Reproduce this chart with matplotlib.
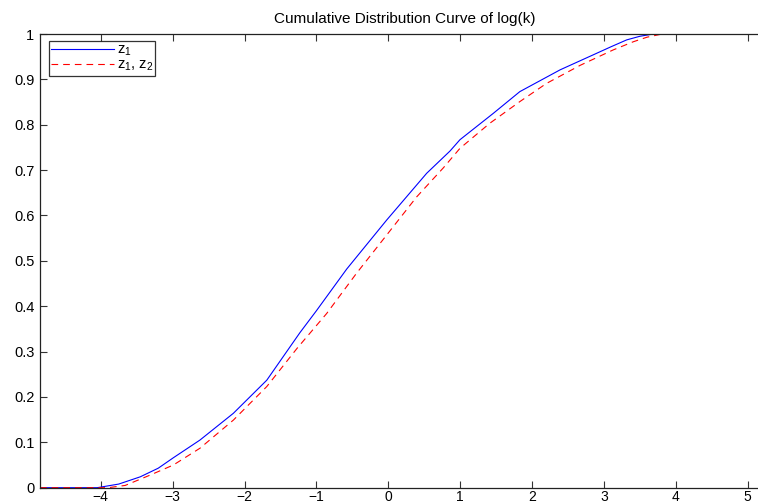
import matplotlib
matplotlib.use("Agg")
import matplotlib.pyplot as plt

plt.rcParams['font.family'] = ['Liberation Sans', 'DejaVu Sans']
plt.rcParams['mathtext.fontset'] = 'custom'
plt.rcParams['mathtext.rm'] = 'Liberation Sans'
plt.rcParams['mathtext.it'] = 'Liberation Sans'

title = "Cumulative Distribution Curve of log(k)"
labels = [r"z$_1$", r"z$_1$, z$_2$"]

# series 1 (z1)
x1 = [-4.845, -4.05, -3.75, -3.45, -3.2, -2.99, -2.62, -2.155, -1.69, -1.413, -1.228, -1.0,
      -0.578, -0.022, 0.534, 0.858, 0.997, 1.46, 1.83, 2.39, 2.85, 3.1, 3.316, 3.5, 3.65, 3.75, 5.31]
y1 = [0.0, 0.0, 0.008, 0.024, 0.043, 0.066, 0.105, 0.164, 0.237, 0.300, 0.342, 0.390,
      0.482, 0.59, 0.693, 0.742, 0.767, 0.825, 0.873, 0.921, 0.954, 0.972, 0.987, 0.995, 0.999, 1.0, 1.0]

# series 2 (z1, z2)
x2 = [-4.845, -3.9, -3.66, -3.31, -2.99, -2.62, -2.155, -1.69, -1.27, -0.857, -0.44, -0.022,
      0.395, 0.766, 0.997, 1.41, 1.83, 2.20, 2.67, 3.13, 3.41, 3.6, 3.78, 3.9, 5.31]
y2 = [0.0, 0.0, 0.005, 0.028, 0.05, 0.087, 0.149, 0.223, 0.307, 0.384, 0.473, 0.557,
      0.641, 0.705, 0.748, 0.803, 0.851, 0.891, 0.931, 0.965, 0.983, 0.993, 0.999, 1.0, 1.0]

xticks = [-4, -3, -2, -1, 0, 1, 2, 3, 4, 5]
yticks = [0, 0.1, 0.2, 0.3, 0.4, 0.5, 0.6, 0.7, 0.8, 0.9, 1]
yticklabels = ["0", "0.1", "0.2", "0.3", "0.4", "0.5", "0.6", "0.7", "0.8", "0.9", "1"]

fig = plt.figure(figsize=(7.58, 5.04), dpi=100)
ax = fig.add_axes([40/758, 16.3/504, 730/758, 453.7/504])
ax.plot(x1, y1, color='#0000ff', lw=0.8, label=labels[0])
ax.plot(x2, y2, color='#ff0000', lw=0.8, dashes=(6, 4.5), label=labels[1])

ax.set_xlim(-4.845, 5.31)
ax.set_ylim(0, 1)
ax.set_xticks(xticks)
ax.set_xticklabels(["\u2212" + str(-t) if t < 0 else str(t) for t in xticks])
ax.set_yticks(yticks)
ax.set_yticklabels(yticklabels)
ax.tick_params(direction='in', length=5, width=0.8, top=True, right=True,
               labelsize=10.5, color='#333333')
ax.tick_params(axis='x', pad=1.5, labelsize=10)
ax.tick_params(axis='y', pad=4)
for s in ax.spines.values():
    s.set_linewidth(0.9)
    s.set_color('#222222')

ax.set_title(title, fontsize=11, pad=8)

leg = ax.legend(loc='upper left', bbox_to_anchor=(9/730, 1 - 6.5/453.7), fontsize=10.5,
                frameon=True, fancybox=False, handlelength=4.3, borderpad=0.15,
                labelspacing=0.0, handletextpad=0.2, borderaxespad=0)
leg.get_frame().set_edgecolor('black')
leg.get_frame().set_linewidth(0.9)

fig.savefig("out.png", dpi=100)
